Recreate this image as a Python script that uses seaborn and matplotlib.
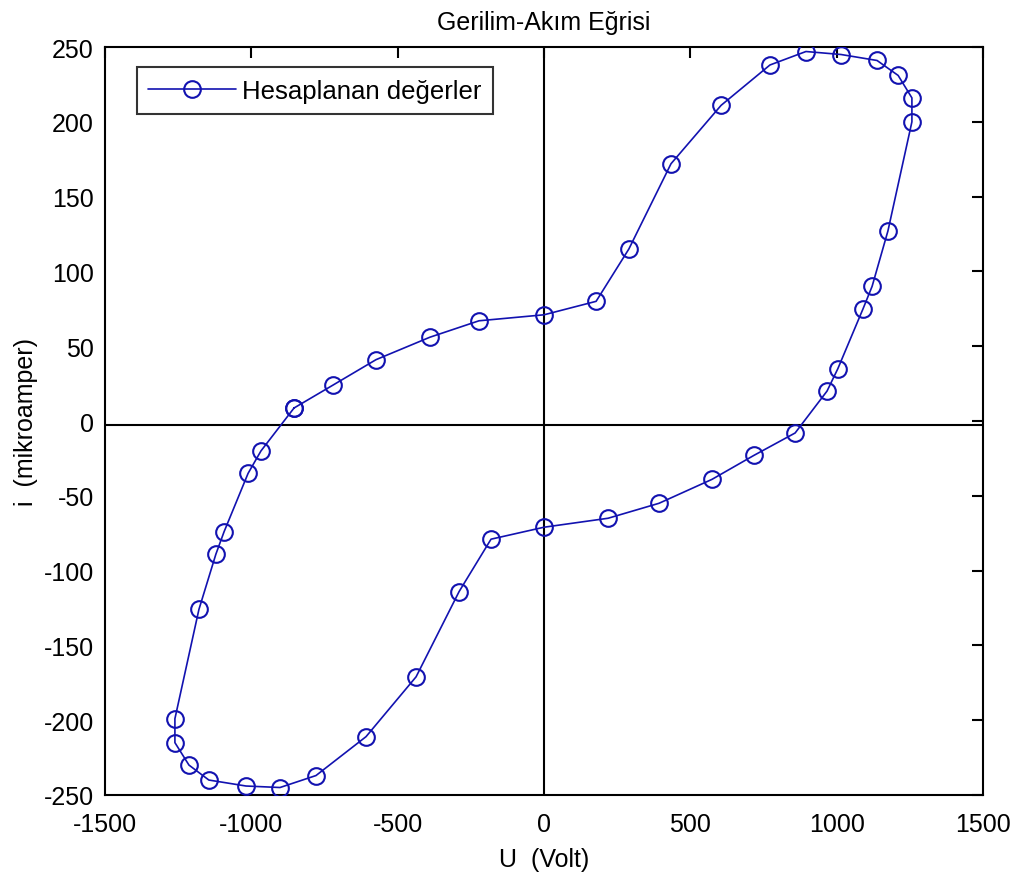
import matplotlib
matplotlib.use("Agg")
import matplotlib.pyplot as plt
import seaborn as sns
import pandas as pd

sns.set_theme(style="white")
plt.rcParams['font.family'] = ['Liberation Sans', 'DejaVu Sans']
plt.rcParams['axes.unicode_minus'] = False
plt.rcParams['text.color'] = 'black'
plt.rcParams['axes.labelcolor'] = 'black'

# voltage / current loop (closed loop)
u_volt = [-854, -721, -574, -390, -222, 0, 178, 290, 434, 605, 772, 895,
          1015, 1138, 1210, 1257, 1257, 1175, 1121, 1090, 1004, 967, 858,
          717, 574, 393, 219, 0, -181, -290, -437, -608, -779, -902, -1018,
          -1145, -1213, -1261, -1261, -1179, -1121, -1093, -1011, -967, -854]
i_mikro = [8.7, 24, 41, 56, 67, 71, 80, 115, 172, 211, 238, 247,
           245, 241, 231, 216, 200, 127, 90, 75, 35, 20, -8,
           -23, -39, -55, -65, -71, -79, -114, -171, -211, -237, -245, -244,
           -240, -230, -215, -199, -126, -89, -74, -35, -20, 8.7]

x_ticks = [-1500, -1000, -500, 0, 500, 1000, 1500]
y_ticks = [-250, -200, -150, -100, -50, 0, 50, 100, 150, 200, 250]

df = pd.DataFrame({"U": u_volt, "i": i_mikro})

fig = plt.figure(figsize=(10.17, 8.78), dpi=100)
ax = fig.add_axes([0.1032, 0.0934, 0.8634, 0.8519])

line_color = "#1212b0"
fs = 18

# axis cross lines
ax.axvline(0, color="black", linewidth=1.5, zorder=1)
ax.axhline(-2.5, color="black", linewidth=1.5, zorder=1)

sns.lineplot(data=df, x="U", y="i", sort=False, estimator=None,
             color=line_color, linewidth=1.2, marker="o", markersize=12,
             markerfacecolor="none", markeredgecolor=line_color,
             markeredgewidth=1.5, label="Hesaplanan değerler", ax=ax, zorder=3)

ax.set_xlim(-1500, 1500)
ax.set_ylim(-250, 250)
ax.set_xticks(x_ticks)
ax.set_yticks(y_ticks)
ax.tick_params(direction="in", length=8, width=1.5, top=True, right=True,
               labelsize=fs, colors="black")
ax.tick_params(axis="x", pad=12)
ax.tick_params(axis="y", pad=8)
for s in ax.spines.values():
    s.set_color("black")
    s.set_linewidth(1.5)

ax.set_title("Gerilim-Akım Eğrisi", fontsize=fs, pad=13, color="black")
ax.set_xlabel("U  (Volt)", fontsize=fs, labelpad=8)
ax.set_ylabel("i  (mikroamper)", fontsize=fs, labelpad=4)

leg = ax.legend(loc="upper left", bbox_to_anchor=(0.0364, 0.973),
                borderaxespad=0, fontsize=18.5, frameon=True, fancybox=False,
                edgecolor="black", handlelength=3.4, handletextpad=0.25,
                borderpad=0.45)
leg.get_frame().set_linewidth(1.5)
for t in leg.get_texts():
    t.set_color("black")

fig.savefig("out.png", dpi=100)
